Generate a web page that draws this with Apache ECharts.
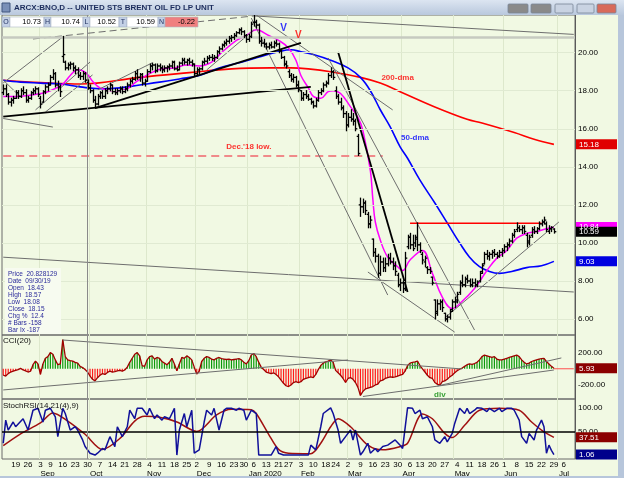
<!DOCTYPE html>
<html><head><meta charset="utf-8">
<script src="https://cdn.jsdelivr.net/npm/echarts@6/dist/echarts.min.js"></script>
<style>html,body{margin:0;padding:0;background:#F1F9E3}#c{width:624px;height:478px}</style>
</head><body><div id="c"></div><script>
// ---------- DATA ----------
const holidays = ['2019-09-02','2019-11-28','2019-12-25','2020-01-01','2020-01-20','2020-02-17','2020-04-10','2020-05-25','2020-07-03'];
const dates = [];
for (let t = Date.UTC(2019,7,12); t <= Date.UTC(2020,6,10); t += 86400000) {
  const d = new Date(t), wd = d.getUTCDay(), s = d.toISOString().slice(0,10);
  if (wd === 0 || wd === 6 || holidays.includes(s)) continue;
  dates.push(s);
}
const open = [17.9,18.1,17.8,17.4,17.5,17.6,17.9,17.7,18.0,17.9, 17.5,17.6,17.9,18.0,18.1,17.6,17.4,17.95,18.2,18.3,
 18.7,18.9,18.3,18.2,19.8,19.5,19.2,19.35,19.4,19.2, 19.1,18.8,18.75,18.9,18.43,18.15,18.0,17.5,17.3,17.7,
 17.9,17.7,18.0,18.1,18.3,17.95,17.9,18.0,18.1,17.95, 18.1,18.3,18.5,18.6,18.9,18.7,18.85,18.4,18.5,19.0,
 19.3,19.35,19.05,19.3,19.2,19.1,19.2,19.25,19.3,19.5, 19.15,19.1,19.45,19.6,19.5,19.6,19.5,19.4,18.9,19.1,
 19.15,19.5,19.55,19.7,19.75,19.7,19.75,20.05,20.2,20.4, 20.5,20.6,20.75,20.8,20.9,21.05,21.2,21.1,20.9,20.7,
 20.85,21.6,21.6,21.45,20.6,20.5,20.45,20.3,20.4,20.3, 20.5,20.45,20.1,19.75,19.4,19.0,18.8,18.6,18.7,18.3,
 18.0,17.6,17.8,17.7,17.55,17.4,17.2,17.5,17.9,18.0, 18.3,18.4,18.8,19.0,18.0,17.7,17.4,17.1,16.8,16.2,
 16.6,16.5,16.4,15.6,12.0,11.9,12.1,11.5,11.0,10.2, 9.5,9.3,8.4,9.0,8.7,8.9,9.2,9.0,8.8,8.3,
 7.8,7.9,7.6,9.8,10.3,9.9,10.0,10.3,9.9,9.4, 9.0,8.7,8.6,8.2,7.0,6.4,6.8,6.9,6.3,6.0,
 6.1,6.5,6.9,6.9,7.4,7.9,7.8,8.1,8.0,7.8, 7.9,7.8,8.0,8.5,8.9,9.4,9.3,9.4,9.5,9.4,
 9.3,9.5,9.6,9.8,9.9,10.1,10.4,10.7,10.8,10.7, 10.8,10.4,10.0,10.4,10.7,10.6,10.75,11.0,11.1,11.0,
 10.6,10.75,10.73];
const high = [18.3,18.3,17.85,17.6,17.7,18.0,18.0,18.1,18.2,18.05, 17.7,17.95,18.1,18.2,18.15,17.7,18.0,18.3,18.4,18.8,
 19.1,18.95,18.5,18.3,20.85,19.55,19.45,19.5,19.45,19.3, 19.2,18.95,19.0,18.95,18.57,18.3,18.05,17.7,17.8,17.95,
 18.0,18.1,18.2,18.4,18.3,18.1,18.1,18.2,18.2,18.2, 18.4,18.6,18.7,19.0,19.1,18.9,18.9,18.6,19.1,19.4,
 19.45,19.4,19.4,19.4,19.3,19.3,19.3,19.4,19.55,19.55, 19.3,19.5,19.7,19.7,19.65,19.7,19.6,19.4,19.2,19.2,
 19.55,19.7,19.8,19.85,19.9,19.85,20.1,20.3,20.45,20.6, 20.7,20.85,20.9,21.0,21.1,21.25,21.3,21.15,20.95,20.95,
 21.6,21.95,21.7,21.5,20.8,20.7,20.5,20.5,20.55,20.6, 20.65,20.5,20.15,19.8,19.55,19.1,18.9,18.85,18.75,18.5,
 18.0,17.9,18.0,17.8,17.6,17.45,17.6,18.0,18.1,18.4, 18.5,18.9,19.2,19.05,18.2,17.8,17.6,17.2,16.9,16.8,
 17.0,16.8,16.5,15.7,12.35,12.3,12.2,11.6,11.4,10.2, 9.7,9.4,9.3,9.2,9.2,9.4,9.45,9.2,9.0,8.4,
 8.1,8.0,9.5,10.4,10.5,10.4,10.4,11.05,10.0,9.5, 9.3,8.75,8.7,8.2,7.0,7.0,7.0,7.0,6.3,6.2,
 6.5,7.0,7.15,7.4,8.0,8.3,8.2,8.3,8.1,8.1, 8.1,8.0,8.5,8.9,9.5,9.6,9.5,9.6,9.65,9.5,
 9.6,9.7,9.9,10.0,10.2,10.5,10.7,11.05,10.9,10.9, 10.9,10.5,10.4,10.8,10.85,10.8,11.1,11.2,11.35,11.1,
 10.9,10.85,10.74];
const low = [17.8,17.7,17.3,17.2,17.35,17.6,17.6,17.65,17.8,17.4, 17.4,17.55,17.8,17.85,17.7,17.1,17.4,17.85,18.0,18.3,
 18.6,18.2,18.0,17.7,19.5,19.1,19.1,19.15,19.05,18.9, 18.7,18.6,18.6,18.45,18.08,17.9,17.4,17.1,17.25,17.6,
 17.6,17.6,17.85,18.0,17.85,17.8,17.8,17.9,17.85,17.9, 18.0,18.2,18.4,18.55,18.6,18.5,18.3,18.25,18.5,18.95,
 19.1,18.95,19.0,19.05,18.95,19.0,19.0,19.1,19.2,19.1, 19.05,19.1,19.35,19.4,19.35,19.4,19.3,18.8,18.8,18.9,
 19.1,19.4,19.45,19.6,19.6,19.55,19.7,19.95,20.15,20.3, 20.4,20.5,20.6,20.7,20.85,21.0,20.95,20.8,20.55,20.6,
 20.8,21.4,21.3,20.5,20.35,20.3,20.2,20.2,20.25,20.25, 20.35,20.0,19.7,19.3,19.2,18.7,18.5,18.45,18.2,17.95,
 17.5,17.5,17.6,17.5,17.3,17.1,17.15,17.45,17.8,17.95, 18.2,18.35,18.7,18.6,17.6,17.3,17.0,16.6,15.9,16.1,
 16.4,16.2,15.9,14.6,11.4,11.6,11.5,10.8,10.8,9.3, 9.0,8.2,8.3,8.5,8.5,8.8,8.9,8.6,8.3,7.7,
 7.5,7.4,7.5,9.7,9.7,9.6,9.8,9.6,9.5,8.9, 8.75,8.4,8.4,7.8,6.0,6.2,6.5,6.4,5.9,5.85,
 6.0,6.4,6.6,6.85,7.3,7.7,7.7,7.9,7.7,7.7, 7.7,7.7,7.95,8.4,8.9,9.15,9.1,9.2,9.3,9.2,
 9.25,9.3,9.5,9.6,9.8,10.0,10.3,10.6,10.6,10.5, 10.5,9.8,9.9,10.3,10.5,10.5,10.7,10.9,11.0,10.6,
 10.5,10.6,10.52];
const close = [18.1,17.8,17.4,17.5,17.6,17.9,17.7,18.0,17.9,17.5, 17.6,17.9,18.0,18.1,17.8,17.3,17.95,18.2,18.3,18.7,
 18.9,18.3,18.2,17.95,19.9,19.2,19.35,19.4,19.2,19.1, 18.8,18.75,18.9,18.55,18.15,18.0,17.5,17.3,17.7,17.9,
 17.7,18.0,18.1,18.3,17.95,17.9,18.0,18.1,17.95,18.1, 18.3,18.5,18.6,18.9,18.7,18.85,18.4,18.5,19.0,19.3,
 19.35,19.05,19.3,19.2,19.1,19.2,19.25,19.3,19.5,19.15, 19.1,19.45,19.6,19.5,19.6,19.5,19.4,18.9,19.1,19.15,
 19.5,19.55,19.7,19.75,19.7,19.75,20.05,20.2,20.4,20.5, 20.6,20.75,20.8,20.9,21.05,21.2,21.1,20.9,20.7,20.85,
 21.5,21.6,21.45,20.6,20.5,20.45,20.3,20.4,20.3,20.5, 20.45,20.1,19.75,19.4,19.3,18.8,18.6,18.7,18.3,18.05,
 17.6,17.8,17.7,17.55,17.4,17.2,17.5,17.9,18.0,18.3, 18.4,18.8,19.0,18.7,17.7,17.4,17.1,16.8,16.2,16.6,
 16.5,16.4,16.0,14.7,11.9,12.1,11.7,11.0,11.2,9.5, 9.3,8.4,9.0,8.7,8.9,9.2,9.0,8.8,8.5,7.8,
 7.9,7.6,9.2,10.3,9.9,9.7,10.2,9.9,9.6,9.1, 9.2,8.6,8.5,7.9,6.3,6.8,6.9,6.6,6.0,6.1,
 6.4,6.9,7.0,7.3,7.9,7.8,8.1,8.0,7.8,7.9, 7.8,7.95,8.4,8.8,9.4,9.3,9.4,9.5,9.4,9.3,
 9.5,9.6,9.8,9.9,10.1,10.4,10.6,10.8,10.7,10.8, 10.6,10.1,10.3,10.7,10.6,10.75,11.0,11.1,11.2,10.7,
 10.75,10.81,10.59];
// moving averages: [day index, value]
const ma10 = [[0,17.7],[5,17.7],[10,17.75],[15,17.85],[19,18.0],[24,18.35],[27,18.8],[30,19.1],[32,19.05],[34,18.85],[36,18.5],[39,18.15],[44,18.0],[49,18.05],[54,18.5],[59,18.9],[64,19.15],[69,19.2],[74,19.35],[79,19.3],[84,19.5],[88,20.0],[94,20.65],[98,20.9],[102,21.2],[107,20.9],[111,20.65],[115,20.25],[118,19.6],[120,18.8],[123,18.15],[125,17.7],[128,17.6],[131,17.95],[133,18.0],[136,17.85],[140,17.15],[143,16.6],[145,15.9],[148,13.8],[149,12.3],[150,11.1],[152,10.15],[155,9.25],[159,8.75],[161,8.55],[164,9.1],[169,9.6],[173,8.4],[177,7.15],[181,6.55],[184,6.8],[190,7.6],[195,8.55],[199,9.2],[203,9.6],[207,10.25],[211,10.5],[215,10.6],[219,10.75],[222,10.84]];
const ma50 = [[0,18.55],[7,18.45],[15,18.4],[23,18.35],[31,18.2],[39,18.1],[47,18.15],[55,18.3],[63,18.45],[71,18.62],[79,18.8],[87,19.2],[96,19.5],[104,19.8],[111,20.05],[116,20.15],[120,20.05],[125,19.9],[132,19.6],[139,19.2],[144,18.7],[148,18.0],[152,17.0],[156,16.1],[160,15.05],[163,14.45],[168,13.3],[174,12.1],[179,11.05],[184,10.0],[188,9.25],[192,8.75],[196,8.5],[200,8.4],[205,8.5],[211,8.7],[217,8.8],[222,9.03]];
const ma200 = [[0,18.55],[19,18.4],[31,18.35],[55,18.7],[75,18.95],[92,19.15],[108,19.2],[116,19.2],[123,19.15],[132,19.0],[144,18.7],[152,18.4],[160,17.95],[174,17.15],[187,16.5],[193,16.3],[206,15.8],[214,15.45],[222,15.18]];
const cci = [-80,-90,-60,-40,-30,-20,-10,5,-15,-25, -40,-30,50,95,60,-70,60,130,150,200, 180,110,50,60,360,150,110,100,95,80,
 70,30,15,-10,-40,-90,-130,-150,-110,-80, -60,-70,-45,-30,-40,-35,-25,-20,-30,-15, 20,80,130,180,200,160,40,30,110,150,
 160,120,140,130,90,70,50,80,130,60, -25,60,140,130,160,140,110,20,-65,-30, 90,130,150,140,120,110,130,140,125,120,
 115,120,110,115,120,125,110,80,60,100, 170,190,150,80,20,-10,-40,-50,-60,-50, -70,-100,-140,-180,-210,-220,-200,-170,-160,-170,
 -160,-130,-120,-110,-100,-110,-70,-10,40,70, 85,95,110,80,-20,-50,-80,-120,-170,-120, -110,-130,-170,-230,-330,-280,-250,-240,-230,-220,
 -200,-190,-150,-140,-120,-110,-100,-105,-100,-90, -80,-70,-30,40,70,80,85,95,40,0, -40,-80,-110,-120,-170,-190,-205,-160,-150,-130,
 -100,-80,-50,-25,-5,10,30,50,60,55, 65,80,110,150,170,160,150,140,150,120, 110,110,120,130,140,150,160,170,150,110,
 80,60,70,90,100,110,120,125,130,90, 60,30,5.93];
const stochK = [[0,25],[1,74],[2,53],[4,70],[5,60],[8,77],[10,53],[12,95],[14,99],[16,70],[17,95],[19,99],[21,81],[22,39],[24,99],[25,88],[27,53],[29,60],[30,53],[32,32],[33,18],[35,4],[37,0],[38,4],[40,14],[41,11],[43,39],[45,18],[46,60],[48,39],[50,60],[51,95],[53,77],[54,99],[56,99],[58,85],[59,99],[61,77],[62,85],[64,74],[65,81],[67,77],[69,99],[70,0],[71,53],[73,88],[74,60],[76,95],[77,4],[79,11],[81,70],[82,95],[84,85],[85,99],[87,53],[89,95],[90,99],[92,99],[94,95],[95,99],[97,95],[98,74],[100,95],[102,88],[103,0],[105,0],[108,0],[110,18],[111,4],[113,0],[123,0],[124,21],[126,11],[128,60],[129,88],[132,100],[133,88],[135,53],[136,25],[138,39],[140,53],[141,32],[142,53],[144,0],[145,7],[147,25],[148,4],[150,14],[151,7],[153,18],[155,21],[158,32],[160,21],[161,14],[163,100],[165,99],[166,88],[168,95],[169,77],[171,81],[173,60],[174,32],[176,25],[178,39],[179,28],[181,46],[182,67],[184,99],[186,88],[187,99],[188,88],[190,95],[191,100],[193,99],[195,92],[196,99],[198,92],[200,99],[201,92],[203,99],[205,99],[206,95],[208,74],[209,39],[211,25],[212,46],[214,32],[215,53],[217,74],[218,60],[219,4],[220,21],[221,10],[222,1.06]];
const stochD = [[0,20],[7,45],[15,68],[20,89],[26,72],[33,44],[40,12],[47,35],[53,72],[57,82],[63,80],[70,70],[78,50],[86,85],[92,97],[100,96],[102,88],[107,44],[111,12],[115,4],[124,3],[128,25],[132,60],[135,77],[140,60],[147,21],[153,11],[160,18],[163,25],[169,87],[173,77],[178,46],[181,37],[186,63],[192,95],[200,99],[208,95],[213,70],[218,49],[222,37.51]];
// drawn trendlines: [[day index, value],[day index, value]]
const dashedTrend = [[[12,20.72],[101,21.93]]];
const grayTrend = [[[101,21.93],[230,20.96]],[[0,18.41],[24,20.83]],[[0,18.56],[7,17.67]],[[13,16.99],[35,19.51]],[[17,16.88],[36,18.83]],
  [[38,18.04],[60,19.46]],[[82,19.09],[101,21.19]],[[100,21.82],[155,7.26]],[[102,21.98],[157,16.99]],[[131,19.72],[190,5.42]],
  [[147,8.47],[182,5.31]],[[0,9.25],[230,7.42]],[[178,6.06],[224,11.10]],[[0,16.54],[20,16.09]]];
const blackTrend = [[[37,17.09],[120,20.51]],[[0,16.64],[124,18.2]],[[135,20.04],[163,7.42]]];
const resistance = [[164,11.03],[217,11.03]];
const dec18Low = [[0,14.57],[153,14.57]];
const cciTrend = [[[24,356],[185,-2]],[[0,-262],[139,109]],[[145,-343],[222,-15]],[[175,-213],[225,134]]];
const priceTicks = [6,8,10,12,14,16,18,20];
const cciTicks = [200,-200];
const stochTicks = [100,50];
const crosshairDate = '2019-09-30', crosshairPrice = 20.828129;
const monthNames = ['Jan','Feb','Mar','Apr','May','Jun','Jul','Aug','Sep','Oct','Nov','Dec'];
const infoLines = ['Price  20.828129','Date  09/30/19','Open  18.43','High  18.57','Low  18.08','Close  18.15','Chg %  12.4','# Bars -158','Bar Ix -187'];
const quote = [['O','10.73'],['H','10.74'],['L','10.52'],['T','10.59'],['N','-0.22']];

// ---------- CHART ----------
const FONT = 'Liberation Sans, Arial, sans-serif';
const chart = echarts.init(document.getElementById('c'));
const wd = d => new Date(d + 'T00:00:00Z').getUTCDay();
const weekStart = dates.map((d,i) => i > 0 && wd(d) < wd(dates[i-1]));
const monthStart = dates.map((d,i) => i > 0 && d.slice(5,7) !== dates[i-1].slice(5,7));
const GL = 2, GW = 573;
function xa(g, extra) {
  return Object.assign({type:'category', gridIndex:g, data:dates, boundaryGap:true,
    axisLine:{show:false}, axisTick:{show:false}, axisLabel:{show:false},
    splitLine:{show:true, interval:(i)=>monthStart[i], lineStyle:{color:'#DDE8CC', width:1}}}, extra || {});
}
function ya(g, min, max, ticks) {
  return {type:'value', gridIndex:g, position:'right', min:min, max:max,
    axisLine:{show:true, lineStyle:{color:'#5A5A5A'}}, axisTick:{show:false}, splitLine:{show:false},
    axisLabel:{customValues:ticks, formatter:v=>Number(v).toFixed(2), fontSize:8, color:'#000', margin:3, fontFamily:FONT}};
}
const noSym = {symbol:'none', silent:true, animation:false};
function tl(pts, xi, yi, color, width, type, z) {
  return Object.assign({type:'line', xAxisIndex:xi, yAxisIndex:yi, data:pts, lineStyle:{color:color, width:width, type:type}, z:z}, noSym);
}
const series = [];
series.push(Object.assign({type:'line', name:'200-dma', xAxisIndex:0, yAxisIndex:0, data:ma200, smooth:0.4, lineStyle:{color:'#FF0000', width:1.6}, z:3,
  markLine:{silent:true, symbol:'none', label:{show:false}, animation:false, data:
    priceTicks.map(v=>({yAxis:v, lineStyle:{color:'#E0EAD2', width:1, type:'solid'}})).concat([
    {yAxis:crosshairPrice, lineStyle:{color:'#C6CAC0', width:2.5, type:'solid'}},
    {xAxis:crosshairDate, lineStyle:{color:'#8A8A8A', width:1, type:'solid'}}])}}, noSym));
series.push(Object.assign({type:'line', name:'50-dma', xAxisIndex:0, yAxisIndex:0, data:ma50, smooth:0.4, lineStyle:{color:'#0000FF', width:1.6}, z:3}, noSym));
series.push(Object.assign({type:'line', name:'ma', xAxisIndex:0, yAxisIndex:0, data:ma10, smooth:0.4, lineStyle:{color:'#FF00FF', width:1.5}, z:3}, noSym));
series.push(tl(dec18Low, 0, 0, '#F08A8A', 2, [8,5], 2));
dashedTrend.forEach(p => series.push(tl(p, 0, 0, '#6E6E6E', 1, [7,4], 4)));
grayTrend.forEach(p => series.push(tl(p, 0, 0, '#6E6E6E', 1, 'solid', 4)));
blackTrend.forEach(p => series.push(tl(p, 0, 0, '#000000', 1.8, 'solid', 4)));
series.push(tl(resistance, 0, 0, '#FF0000', 1.5, 'solid', 4));
series.push({type:'custom', xAxisIndex:0, yAxisIndex:0, z:5, silent:true, animation:false,
  data: close.map((c,i)=>[i, open[i], high[i], low[i], c]),
  encode:{x:0, y:[1,2,3,4]},
  renderItem:(params, api) => {
    const i = api.value(0);
    const o = api.coord([i, api.value(1)]), h = api.coord([i, api.value(2)]), l = api.coord([i, api.value(3)]), c = api.coord([i, api.value(4)]);
    const x = Math.round(h[0]) + 0.5;
    const st = {stroke:'#000', lineWidth:1.3};
    return {type:'group', children:[
      {type:'line', shape:{x1:x, y1:h[1]-0.6, x2:x, y2:l[1]+0.6}, style:st},
      {type:'line', shape:{x1:x-1.8, y1:o[1], x2:x, y2:o[1]}, style:st},
      {type:'line', shape:{x1:x, y1:c[1], x2:x+1.8, y2:c[1]}, style:st}]};
  }});
// annotations
const notes = [
  {t:'200-dma', at:[159,18.67], c:'#FF0000', s:8},
  {t:'50-dma', at:[166,15.5], c:'#0000FF', s:8},
  {t:"Dec.'18 low.", at:[99,15.04], c:'#FF0000', s:8},
  {t:'V', at:[113,21.3], c:'#0000FF', s:10},
  {t:'V', at:[119,20.93], c:'#FF0000', s:10}];
const clear = 'rgba(0,0,0,0)';
notes.forEach(n => series.push({type:'scatter', xAxisIndex:0, yAxisIndex:0, z:8, silent:true, animation:false,
  symbol:'circle', symbolSize:2, itemStyle:{color:clear}, data:[n.at], labelLayout:{hideOverlap:false},
  label:{show:true, position:'inside', formatter:n.t, color:n.c, fontSize:n.s, fontWeight:'bold', fontFamily:FONT}}));
// CCI
series.push({type:'bar', xAxisIndex:1, yAxisIndex:1, barWidth:1.2, z:2, silent:true, animation:false,
  data: cci.map(v=>({value:v, itemStyle:{color: v >= 0 ? '#0A9A0A' : '#FF1A1A'}}))});
series.push(Object.assign({type:'line', xAxisIndex:1, yAxisIndex:1, data:cci, lineStyle:{color:'#A00000', width:1.3}, z:3,
  markLine:{silent:true, symbol:'none', label:{show:false}, animation:false, data:[{xAxis:crosshairDate, lineStyle:{color:'#8A8A8A', width:1, type:'solid'}}]}}, noSym));
cciTrend.forEach(p => series.push(tl(p, 1, 1, '#6E6E6E', 1, 'solid', 4)));
series.push(tl([[222,0],[230,0]], 1, 1, '#FF5050', 1, 'solid', 4));
series.push({type:'scatter', xAxisIndex:1, yAxisIndex:1, z:8, silent:true, animation:false, symbol:'circle', symbolSize:2, itemStyle:{color:clear},
  data:[[176,-324]], labelLayout:{hideOverlap:false},
  label:{show:true, position:'inside', formatter:'div', color:'#0A8A0A', fontSize:8, fontWeight:'bold', fontFamily:FONT}});
// StochRSI
series.push(Object.assign({type:'line', xAxisIndex:2, yAxisIndex:2, data:stochD, smooth:0.3, lineStyle:{color:'#A01010', width:1.5}, z:3,
  markLine:{silent:true, symbol:'none', label:{show:false}, animation:false, data:[
    {yAxis:50, lineStyle:{color:'#000', width:1.5, type:'solid'}},
    {xAxis:crosshairDate, lineStyle:{color:'#8A8A8A', width:1, type:'solid'}}]}}, noSym));
series.push(Object.assign({type:'line', xAxisIndex:2, yAxisIndex:2, data:stochK, lineStyle:{color:'#10109A', width:1.5}, z:4}, noSym));

const option = {
  animation:false,
  backgroundColor:'#F1F9E3',
  grid:[
    {left:GL, width:GW, top:15, height:320, show:true, borderColor:'#6A6A6A', borderWidth:1},
    {left:GL, width:GW, top:335, height:64, show:true, borderColor:'#6A6A6A', borderWidth:1},
    {left:GL, width:GW, top:399, height:61, show:true, borderColor:'#6A6A6A', borderWidth:1}],
  xAxis:[xa(0), xa(1),
    xa(2, {axisLabel:{show:true, interval:(i)=>weekStart[i], formatter:v=>String(+v.slice(8)), fontSize:8, color:'#000', margin:2, fontFamily:FONT}}),
    {type:'category', gridIndex:2, data:dates, position:'bottom', offset:9, axisLine:{show:false}, axisTick:{show:false}, splitLine:{show:false},
     axisLabel:{show:true, interval:(i)=>monthStart[i], align:'left', fontSize:8, color:'#000', margin:2, fontFamily:FONT,
       formatter:v=>{const m = +v.slice(5,7); return m === 1 ? 'Jan ' + v.slice(0,4) : monthNames[m-1];}}}],
  yAxis:[ya(0, 5.16, 21.98, priceTicks), ya(1, -374, 418, cciTicks), ya(2, -8.33, 118.75, stochTicks)],
  series:series
};
chart.setOption(option);

// ---------- overlay graphics (positions from the chart's own scales) ----------
const py = (axis, v) => chart.convertToPixel({yAxisIndex:axis}, v);
const g = [];
// window title bar
g.push({type:'rect', shape:{x:0, y:0, width:624, height:15}, style:{fill:new echarts.graphic.LinearGradient(0,0,0,1,[{offset:0,color:'#DCE5F1'},{offset:1,color:'#B9C8DD'}])}, z:100});
g.push({type:'rect', shape:{x:2, y:3, width:8, height:9}, style:{fill:'#7A90B8', stroke:'#40567E', lineWidth:1}, z:101});
g.push({type:'text', x:14, y:8, style:{text:'ARCX:BNO,D -- UNITED STS BRENT OIL FD LP UNIT', fill:'#1C2C5C', font:'bold 8px "Liberation Sans Narrow", Arial', verticalAlign:'middle'}, z:101});
[[508,20,'#8A8A8A'],[531,20,'#8A8A8A'],[555,18,'#C9D3E2'],[577,17,'#C9D3E2'],[597,19,'#D86A5A']].forEach(b=>
  g.push({type:'rect', shape:{x:b[0], y:4, width:b[1], height:9, r:1}, style:{fill:b[2], stroke:'#7A8698', lineWidth:0.8}, z:101}));
// window frame right / bottom
g.push({type:'rect', shape:{x:618, y:15, width:6, height:463}, style:{fill:'#B7C6DB'}, z:100});
g.push({type:'rect', shape:{x:0, y:476, width:624, height:2}, style:{fill:'#B7C6DB'}, z:100});
// quote row
let qx = 2;
const qw = [[8,34],[7,32],[7,29],[8,31],[7,33]];
quote.forEach((q,k)=>{
  const lw = qw[k][0], vw = qw[k][1];
  g.push({type:'rect', shape:{x:qx, y:17, width:lw, height:10}, style:{fill:'#C3D0E6', stroke:'#9AA8C0', lineWidth:0.6}, z:101});
  g.push({type:'text', x:qx + lw/2, y:22, style:{text:q[0], fill:'#1C2C5C', font:'7px ' + FONT, align:'center', verticalAlign:'middle'}, z:102});
  qx += lw;
  g.push({type:'rect', shape:{x:qx, y:17, width:vw, height:10}, style:{fill: k === 4 ? '#F07F7F' : '#FFFFFF', stroke:'#B0B8C8', lineWidth:0.6}, z:101});
  g.push({type:'text', x:qx + vw - 3, y:22, style:{text:q[1], fill:'#000', font:'7.5px ' + FONT, align:'right', verticalAlign:'middle'}, z:102});
  qx += vw;
});
// info box
g.push({type:'rect', shape:{x:5, y:268, width:56, height:66}, style:{fill:'#F7FBF0'}, z:90});
infoLines.forEach((s,k)=> g.push({type:'text', x:8, y:274 + k*7, style:{text:s, fill:'#2A2A9A', font:'6.5px ' + FONT, verticalAlign:'middle'}, z:91}));
// panel titles
g.push({type:'text', x:3, y:341, style:{text:'CCI(20)', fill:'#111', font:'8px ' + FONT, verticalAlign:'middle'}, z:91});
g.push({type:'text', x:3, y:406, style:{text:'StochRSI(14,21(4),9)', fill:'#111', font:'8px ' + FONT, verticalAlign:'middle'}, z:91});
// last-value boxes on the right axis
const boxes = [
  [0, ma10[ma10.length-1][1], '#FF00FF'],
  [0, close[close.length-1], '#000000'],
  [0, ma200[ma200.length-1][1], '#E00000'],
  [0, ma50[ma50.length-1][1], '#0000E0'],
  [1, cci[cci.length-1], '#8B0000'],
  [2, stochD[stochD.length-1][1], '#8B0000'],
  [2, stochK[stochK.length-1][1], '#00008B']];
boxes.forEach(b=>{
  const y = py(b[0], b[1]);
  g.push({type:'rect', shape:{x:576, y:y-5, width:41, height:10}, style:{fill:b[2]}, z:95});
  g.push({type:'text', x:579, y:y, style:{text:b[1].toFixed(2), fill:'#FFFFFF', font:'8px ' + FONT, verticalAlign:'middle'}, z:96});
});
chart.setOption({graphic:{elements:g}});
</script></body></html>
